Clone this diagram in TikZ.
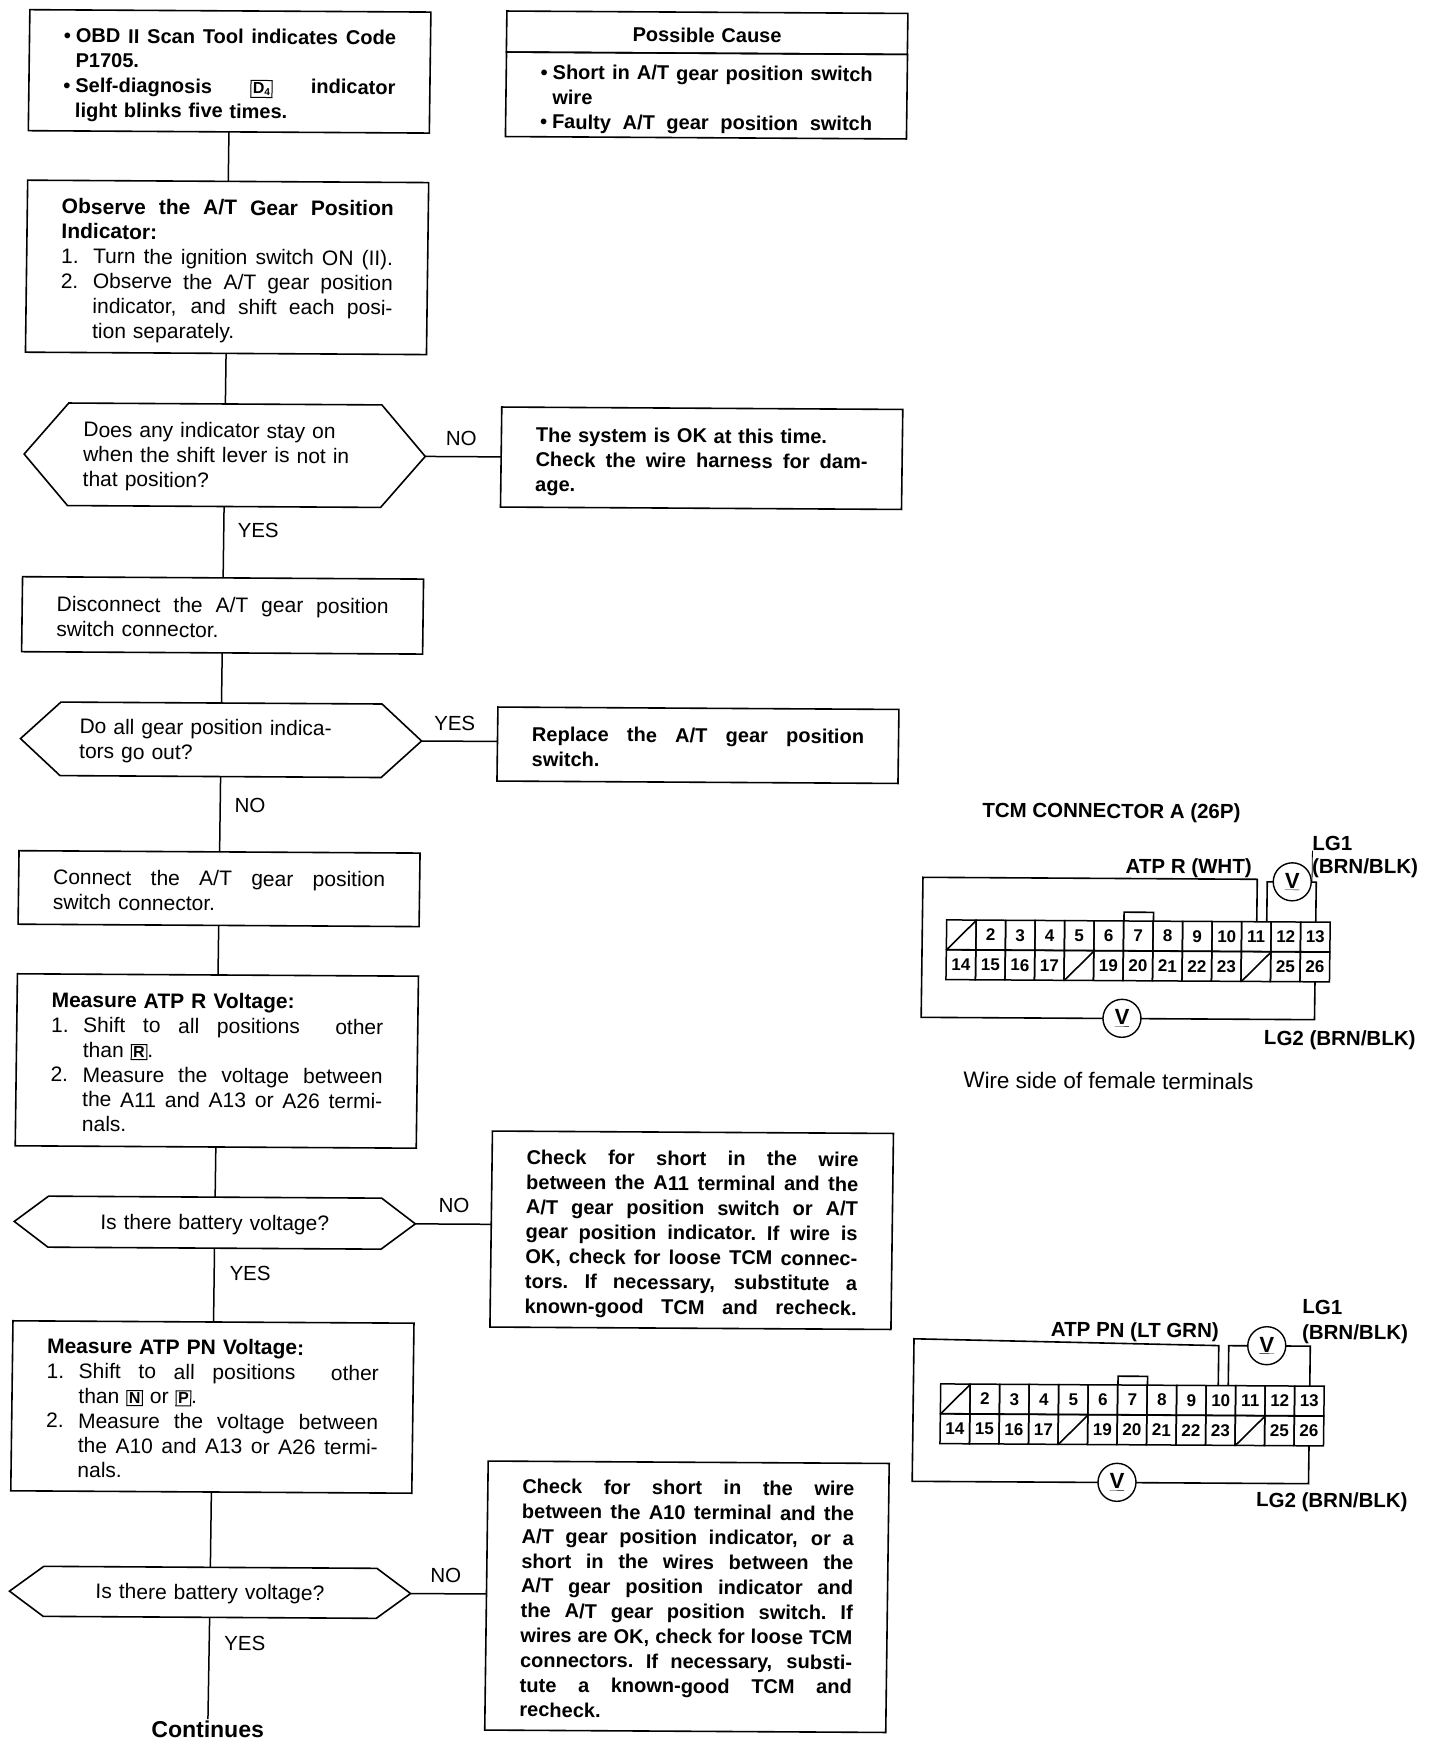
\documentclass[tikz,border=0pt]{standalone}
\usepackage{fontspec}
\usepackage{tikz}
\usetikzlibrary{positioning}
\setmainfont{Liberation Sans}
\setlength{\fboxsep}{1.5pt}
\setlength{\fboxrule}{1pt}

\newcommand{\looseword}{\spaceskip=.25em plus 1fil minus .05em\xspaceskip=\spaceskip\relax}
\newcommand{\fl}[1]{\makebox[\hsize][s]{\looseword #1}}
\newcommand{\hl}[3]{\makebox[#1][l]{#2}\makebox[\dimexpr\hsize-#1][s]{\looseword #3}}
\newcommand{\shiftkey}[1]{\fbox{\fontsize{16}{16}\selectfont\bfseries #1}}
\newcommand{\hexoutline}[2]{%
  \draw[line width=1.6pt] (#1.west) -- ([xshift=#2pt]#1.north west) -- ([xshift=-#2pt]#1.north east)
    -- (#1.east) -- ([xshift=-#2pt]#1.south east) -- ([xshift=#2pt]#1.south west) -- cycle;}

\tikzset{
  flowbox/.style={draw, line width=1.6pt, rectangle, inner xsep=34.5pt, inner ysep=0pt, outer sep=0pt,
    text width=332pt, align=left, font=\fontsize{21}{24.8}\selectfont,
    execute at begin node=\rule{0pt}{24pt}, execute at end node=\rule[-5pt]{0pt}{5pt}},
  boldbox/.style={flowbox, font=\fontsize{20}{24.8}\selectfont\bfseries},
  hexbox/.style={rectangle, inner xsep=59pt, inner ysep=0pt, outer sep=0pt, text width=283pt, align=left,
    font=\fontsize{21}{24.8}\selectfont,
    execute at begin node=\rule{0pt}{20pt}, execute at end node=\rule[-5pt]{0pt}{5pt}},
  flowlabel/.style={inner sep=0pt, font=\fontsize{20.5}{24.5}\selectfont},
  tcmlabel/.style={inner sep=0pt, font=\fontsize{20.5}{22}\selectfont\bfseries},
  pinbox/.style={draw, line width=1.5pt, rectangle, minimum width=29.5pt, minimum height=29.7pt, inner sep=0pt,
    outer sep=0pt, font=\fontsize{17}{17}\selectfont\bfseries},
  voltbox/.style={draw, line width=1.4pt, circle, minimum size=38pt, inner sep=0pt, outer sep=0pt,
    font=\fontsize{22}{22}\selectfont\bfseries},
  wire/.style={line width=1.6pt},
  flowline/.style={line width=1.5pt}
}

\newcommand{\tcmgrid}{%
  \foreach \n in {1,...,13} {
    \node[pinbox] (p\n) at ({943.75+29.5*\n}, 929) {\ifnum\n=1 \else\n\fi};
  }
  \foreach \n in {14,...,26} {
    \node[pinbox] (p\n) at ({560.25+29.5*\n}, 959) {\ifnum\n=18 \else\ifnum\n=24 \else\n\fi\fi};
  }
  \draw[wire] (p1.south west) -- (p1.north east);
  \draw[wire] (p18.south west) -- (p18.north east);
  \draw[wire] (p24.south west) -- (p24.north east);
  \draw[wire] (p7.north west) -- ++(0,-9) -| (p7.north east);
}

\begin{document}
\begin{tikzpicture}[x=1pt, y=-1pt]
  \useasboundingbox (0,0) rectangle (1440,1744);
  \begin{scope}[cm={1,-0.006,0.0129,1,(0,0)}, transform shape]

  % Left column
  \node[boldbox, minimum height=121pt] (code) at (230.5, 70) {%
    \hl{12pt}{•}{OBD II Scan Tool indicates Code}\\
    \hspace*{12pt}P1705.\\
    \hl{12pt}{•}{Self-diagnosis \shiftkey{D\raisebox{-2pt}{\fontsize{10}{10}\selectfont 4}} indicator}\\
    \hspace*{12pt}light blinks five times.};
  \node[flowbox, minimum height=172pt] (observe) at (230.5, 266) {%
    \fl{\textbf{Observe the A/T Gear Position}}\\
    \textbf{Indicator:}\\
    \hl{32pt}{1.}{Turn the ignition switch ON (II).}\\
    \hl{32pt}{2.}{Observe the A/T gear position}\\
    \hl{32pt}{}{indicator, and shift each posi-}\\
    \hspace*{32pt}tion separately.};
  \node[hexbox, minimum height=102.5pt] (anyon) at (230.5, 453.75) {%
    Does any indicator stay on\\
    when the shift lever is not in\\
    that position?};
  \hexoutline{anyon}{44}
  \node[flowbox, minimum height=75pt] (disconnect) at (230.5, 614) {%
    \fl{Disconnect the A/T gear position}\\
    switch connector.};
  \node[hexbox, minimum height=73.5pt] (allout) at (230.5, 738.25) {%
    Do all gear position indica-\\
    tors go out?};
  \hexoutline{allout}{40}
  \node[flowbox, minimum height=73.5pt] (connect) at (230.5, 887.25) {%
    \fl{Connect the A/T gear position}\\
    switch connector.};
  \node[flowbox, minimum height=172pt] (atpr) at (230.5, 1059.6) {%
    \textbf{Measure ATP R Voltage:}\\
    \hl{32pt}{1.}{Shift to all positions\space\space other}\\
    \hspace*{32pt}than \shiftkey{R}.\\
    \hl{32pt}{2.}{Measure the voltage between}\\
    \hl{32pt}{}{the A11 and A13 or A26 termi-}\\
    \hspace*{32pt}nals.};
  \node[hexbox, minimum height=51pt, align=center] (battr) at (230.5, 1221) {Is there battery voltage?};
  \hexoutline{battr}{34}
  \node[flowbox, minimum height=170pt] (atppn) at (230.5, 1405.6) {%
    \textbf{Measure ATP PN Voltage:}\\
    \hl{32pt}{1.}{Shift to all positions\space\space other}\\
    \hspace*{32pt}than \shiftkey{N} or \shiftkey{P}.\\
    \hl{32pt}{2.}{Measure the voltage between}\\
    \hl{32pt}{}{the A10 and A13 or A26 termi-}\\
    \hspace*{32pt}nals.};
  \node[hexbox, minimum height=50pt, align=center] (battpn) at (230.5, 1590.6) {Is there battery voltage?};
  \hexoutline{battpn}{34}
  \node[flowlabel, inner sep=2pt, font=\fontsize{23}{24.5}\selectfont\bfseries] (continues) at (230, 1728) {Continues};

  % Right column
  \node[boldbox, minimum height=41pt, align=center] (causehead) at (707.5, 28.5) {Possible Cause};
  \node[boldbox, minimum height=84.5pt, below=0pt of causehead] (cause) {%
    \hl{12pt}{•}{Short in A/T gear position switch}\\
    \hspace*{12pt}wire\\
    \hl{12pt}{•}{Faulty A/T gear position switch}};
  \node[boldbox, minimum height=100pt] (okay) at (707.5, 454) {%
    The system is OK at this time.\\
    \fl{Check the wire harness for dam-}\\
    age.};
  \node[boldbox, minimum height=74pt] (replace) at (707.5, 741) {%
    \fl{Replace the A/T gear position}\\
    switch.};
  \node[boldbox, minimum height=196pt] (shortr) at (707.5, 1226) {%
    \fl{Check for short in the wire}\\
    \fl{between the A11 terminal and the}\\
    \fl{A/T gear position switch or A/T}\\
    \fl{gear position indicator. If wire is}\\
    \fl{OK, check for loose TCM connec-}\\
    \fl{tors. If necessary, substitute a}\\
    \fl{known-good TCM and recheck.}};
  \node[boldbox, minimum height=269pt] (shortpn) at (707.5, 1592.5) {%
    \fl{Check for short in the wire}\\
    \fl{between the A10 terminal and the}\\
    \fl{A/T gear position indicator, or a}\\
    \fl{short in the wires between the}\\
    \fl{A/T gear position indicator and}\\
    \fl{the A/T gear position switch. If}\\
    \fl{wires are OK, check for loose TCM}\\
    \fl{connectors. If necessary, substi-}\\
    \fl{tute a known-good TCM and}\\
    recheck.};

  % Flow lines
  \draw[flowline] (code) -- (observe);
  \draw[flowline] (observe) -- (anyon);
  \draw[flowline] (anyon) -- (disconnect);
  \draw[flowline] (disconnect) -- (allout);
  \draw[flowline] (allout) -- (connect);
  \draw[flowline] (connect) -- (atpr);
  \draw[flowline] (atpr) -- (battr);
  \draw[flowline] (battr) -- (atppn);
  \draw[flowline] (atppn) -- (battpn);
  \draw[flowline] (battpn) -- (continues);
  \draw[flowline] (anyon.east) -- (anyon.east -| okay.west);
  \draw[flowline] (allout.east) -- (allout.east -| replace.west);
  \draw[flowline] (battr.east) -- (battr.east -| shortr.west);
  \draw[flowline] (battpn.east) -- (battpn.east -| shortpn.west);

  % Flow labels
  \node[flowlabel] (no1) at (467, 436) {NO};
  \node[flowlabel] (yes1) at (265, 529) {YES};
  \node[flowlabel] (yes2) at (464, 721) {YES};
  \node[flowlabel] (no2) at (260.5, 804) {NO};
  \node[flowlabel] (no3) at (469.5, 1203) {NO};
  \node[flowlabel] (yes3) at (266.5, 1272) {YES};
  \node[flowlabel] (no4) at (466, 1573) {NO};
  \node[flowlabel] (yes4) at (266, 1642) {YES};

  % Upper connector
  \tcmgrid
  \coordinate (cornera) at (934, 871.5);
  \node[voltbox] (vlga) at (1303.5, 874) {\underline{V}};
  \node[voltbox] (vgnda) at (1135, 1011.5) {\underline{V}};
  \draw[wire] (vgnda.west) -| (cornera) -| (p11.north);
  \draw[wire] (vgnda.east) -| (p26.south);
  \draw[wire] ([xshift=10pt]p11.north) |- (vlga.west);
  \draw[wire] (vlga.east) -| (p13.north);
  \node[tcmlabel, anchor=west] (titlea) at (992.5, 806) {TCM CONNECTOR A (26P)};
  \node[tcmlabel, anchor=west] (lgonea) at (1323, 835) {LG1};
  \node[tcmlabel, anchor=west] (brnonea) at (1323, 860) {(BRN/BLK)};
  \node[tcmlabel, anchor=east] (atpra) at (1263, 861) {ATP R (WHT)};
  \node[tcmlabel, anchor=east] (lgtwoa) at (1429, 1032) {LG2 (BRN/BLK)};
  \node[flowlabel, anchor=west, font=\fontsize{22.5}{24.5}\selectfont] (wireside) at (977, 1074) {Wire side of female terminals};
  \draw[line width=0.8pt] (lgonea.south west) -- (vlga.east -| lgonea.south west);

  % Lower connector
  \begin{scope}[shift={(0,464)}, name prefix=low-]
    \tcmgrid
    \coordinate (corner) at (931, 869);
    \coordinate (cornerr) at (1235.75, 874);
    \node[voltbox] (vlg) at (1284, 874) {\underline{V}};
    \node[voltbox] (vgnd) at (1136, 1011.5) {\underline{V}};
    \draw[wire] (vgnd.west) -| (corner) -- (cornerr) -- ([xshift=-3pt]p10.north);
    \draw[wire] (vgnd.east) -| (p26.south);
    \draw[wire] ([xshift=7pt]p10.north) |- (vlg.west);
    \draw[wire] (vlg.east) -| (p13.north);
  \end{scope}
  \node[tcmlabel, anchor=west] (lgoneb) at (1319, 1299) {LG1};
  \node[tcmlabel, anchor=west] (brnoneb) at (1319, 1326) {(BRN/BLK)};
  \node[tcmlabel, anchor=east] (atppnb) at (1236, 1325) {ATP PN (LT GRN)};
  \node[tcmlabel, anchor=east] (lgtwob) at (1427, 1494) {LG2 (BRN/BLK)};

  \end{scope}
\end{tikzpicture}
\end{document}
